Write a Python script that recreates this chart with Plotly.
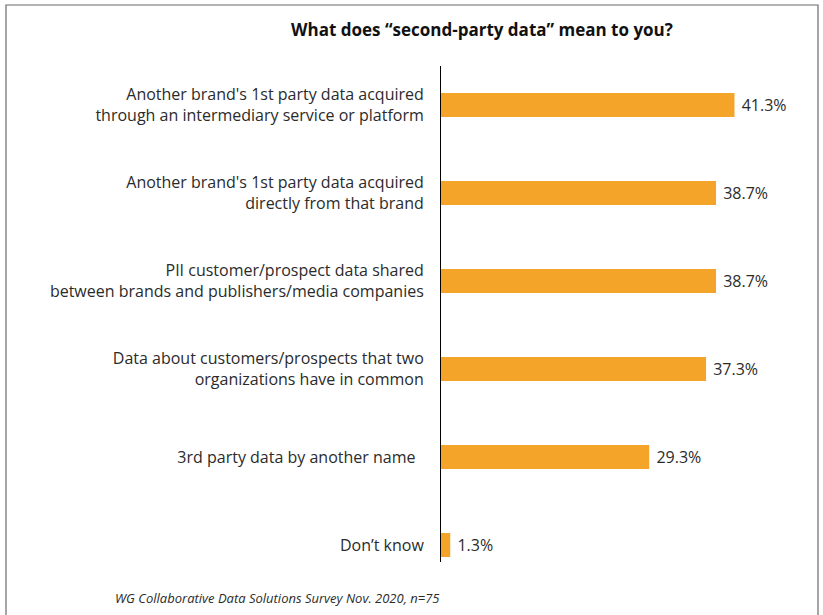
import plotly.graph_objects as go

categories = [
    "Another brand's 1st party data acquired<br>through an intermediary service or platform",
    "Another brand's 1st party data acquired<br>directly from that brand",
    "PII customer/prospect data shared<br>between brands and publishers/media companies",
    "Data about customers/prospects that two<br>organizations have in common",
    "3rd party data by another name  ",
    "Don’t know",
]
values = [41.3, 38.7, 38.7, 37.3, 29.3, 1.3]
value_labels = [f"{v:.1f}%" for v in values]

title_text = "What does “second-party data” mean to you?"
source_text = "WG Collaborative Data Solutions Survey Nov. 2020, n=75"

W, H = 823, 615
ML, MR, MT, MB = 441, 48, 66, 53
plot_w = W - ML - MR
plot_h = H - MT - MB

def px_x(p):
    return (p - ML) / plot_w

def px_y(p):
    return (H - MB - p) / plot_h

fig = go.Figure(
    go.Bar(
        x=values,
        y=categories,
        orientation="h",
        marker=dict(color="#F5A42A", line=dict(width=0)),
        text=[" " + t for t in value_labels],
        textposition="outside",
        cliponaxis=False,
        textfont=dict(family="Open Sans", size=16, color="#2b2b2b"),
        hoverinfo="skip",
    )
)

fig.update_layout(
    width=W,
    height=H,
    margin=dict(l=ML, r=MR, t=MT, b=MB),
    paper_bgcolor="white",
    plot_bgcolor="white",
    bargap=0.727,
    showlegend=False,
    font=dict(family="Open Sans", color="#2b2b2b"),
    title=dict(
        text=f"<b>{title_text}</b>",
        x=482 / W,
        xanchor="center",
        xref="container",
        y=1 - 30 / H,
        yanchor="middle",
        yref="container",
        font=dict(family="Open Sans", size=17, color="#111111"),
    ),
    xaxis=dict(
        range=[0, 47],
        visible=False,
        showgrid=False,
        zeroline=False,
    ),
    yaxis=dict(
        type="category",
        range=[5.193, -0.443],
        showline=True,
        linecolor="#000000",
        linewidth=1,
        ticks="",
        showgrid=False,
        zeroline=False,
        ticklabelstandoff=13,
        tickfont=dict(family="Open Sans", size=16, color="#2b2b2b"),
    ),
    annotations=[
        dict(
            text=f"<i>{source_text}</i>",
            xref="paper",
            yref="paper",
            x=px_x(113),
            y=px_y(598),
            xanchor="left",
            yanchor="middle",
            showarrow=False,
            font=dict(family="Open Sans", size=13, color="#2b2b2b"),
        )
    ],
    shapes=[
        dict(
            type="path",
            xref="paper",
            yref="paper",
            path=(
                f"M {px_x(6)} {px_y(640)} L {px_x(6)} {px_y(5)} "
                f"L {px_x(818)} {px_y(5)} L {px_x(818)} {px_y(640)}"
            ),
            line=dict(color="#6b6b6b", width=1.2),
        )
    ],
)

fig.write_html("out.html")
